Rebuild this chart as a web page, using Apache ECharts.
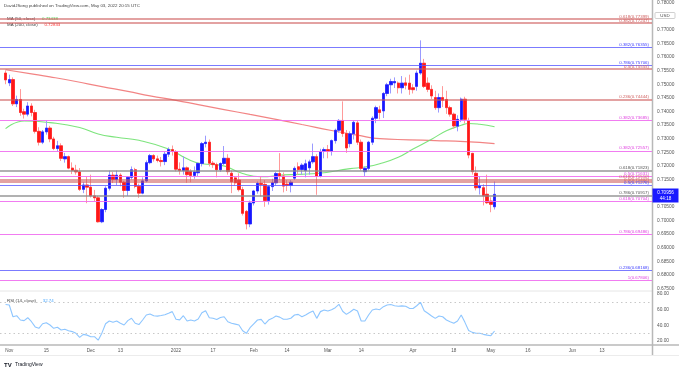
<!DOCTYPE html>
<html><head><meta charset="utf-8">
<script src="https://cdn.jsdelivr.net/npm/echarts@6/dist/echarts.min.js"></script>
<style>html,body{margin:0;padding:0;background:#fff;}#c{width:679px;height:368px;}</style>
</head><body><div id="c"></div>
<script>
// ---------- DATA ----------
const firstDay = '2021-10-28', lastDay = '2022-06-30';   // visible weekday range
const candleStart = '2021-10-29';
// daily candles [open, high, low, close] from candleStart
const ohlc = [
[.7541,.7551,.7500,.7516],[.7505,.7535,.7493,.7517],[.7517,.7525,.7420,.7428],[.7428,.7458,.7416,.7444],
[.7444,.7482,.7384,.7396],[.7399,.7410,.7374,.7390],[.7390,.7434,.7382,.7420],[.7420,.7430,.7382,.7396],
[.7396,.7406,.7319,.7327],[.7327,.7342,.7275,.7287],[.7287,.7332,.7280,.7325],[.7325,.7366,.7315,.7339],
[.7339,.7347,.7287,.7299],[.7299,.7307,.7258,.7264],[.7264,.7292,.7253,.7274],[.7274,.7283,.7218,.7228],
[.7226,.7248,.7212,.7234],[.7234,.7238,.7188,.7192],[.7192,.7213,.7170,.7184],[.7184,.7204,.7168,.7178],
[.7178,.7192,.7108,.7114],[.7114,.7140,.7100,.7130],[.7130,.7160,.7063,.7122],[.7122,.7168,.7084,.7090],
[.7090,.7112,.7070,.7083],[.7083,.7090,.6992,.6995],[.6995,.7045,.6990,.7040],[.7040,.7125,.7030,.7118],
[.7118,.7183,.7110,.7166],[.7166,.7178,.7137,.7150],[.7150,.7183,.7130,.7166],[.7166,.7173,.7125,.7140],
[.7140,.7145,.7083,.7110],[.7110,.7162,.7090,.7158],[.7158,.7198,.7150,.7186],[.7186,.7193,.7118,.7125],
[.7125,.7135,.7083,.7100],[.7100,.7158,.7096,.7145],[.7145,.7220,.7140,.7212],[.7212,.7244,.7206,.7238],
[.7238,.7243,.7216,.7226],[.7226,.7238,.7213,.7220],[.7220,.7233,.7198,.7216],[.7216,.7253,.7203,.7243],
[.7243,.7268,.7233,.7260],[.7260,.7275,.7238,.7253],[.7253,.7258,.7180,.7188],[.7188,.7213,.7168,.7183],
[.7183,.7235,.7168,.7193],[.7193,.7198,.7138,.7168],[.7180,.7188,.7140,.7165],[.7165,.7198,.7153,.7178],
[.7175,.7213,.7163,.7209],[.7209,.7288,.7198,.7282],[.7282,.7311,.7268,.7287],[.7287,.7297,.7198,.7210],
[.7210,.7218,.7193,.7205],[.7205,.7212,.7158,.7186],[.7186,.7213,.7178,.7209],[.7209,.7273,.7203,.7228],
[.7228,.7243,.7168,.7179],[.7173,.7183,.7100,.7142],[.7156,.7163,.7128,.7138],[.7148,.7173,.7106,.7113],
[.7113,.7123,.7018,.7026],[.7033,.7038,.6967,.6987],[.6987,.7073,.6975,.7064],[.7064,.7112,.7055,.7108],
[.7108,.7143,.7098,.7136],[.7136,.7163,.7088,.7132],[.7132,.7148,.7050,.7073],[.7073,.7128,.7058,.7124],
[.7124,.7153,.7108,.7138],[.7138,.7178,.7128,.7172],[.7172,.7247,.7148,.7163],[.7163,.7176,.7103,.7126],
[.7133,.7148,.7108,.7128],[.7128,.7148,.7103,.7140],[.7155,.7198,.7148,.7191],[.7197,.7213,.7168,.7187],
[.7187,.7210,.7168,.7203],[.7183,.7223,.7158,.7208],[.7193,.7223,.7168,.7215],[.7215,.7282,.7208,.7234],
[.7234,.7243,.7094,.7163],[.7163,.7263,.7158,.7253],[.7253,.7268,.7228,.7260],[.7260,.7277,.7228,.7253],
[.7253,.7297,.7238,.7293],[.7293,.7337,.7282,.7331],[.7331,.7372,.7322,.7367],[.7367,.7437,.7307,.7319],
[.7319,.7332,.7248,.7266],[.7282,.7327,.7268,.7318],[.7318,.7367,.7297,.7360],[.7358,.7367,.7277,.7287],
[.7287,.7297,.7183,.7191],[.7179,.7198,.7163,.7191],[.7191,.7292,.7183,.7287],[.7287,.7382,.7277,.7375],
[.7375,.7421,.7357,.7414],[.7406,.7421,.7371,.7396],[.7402,.7471,.7376,.7466],[.7466,.7505,.7456,.7498],
[.7498,.7520,.7466,.7510],[.7505,.7525,.7486,.7510],[.7504,.7510,.7466,.7487],[.7487,.7530,.7466,.7504],
[.7505,.7525,.7481,.7496],[.7504,.7535,.7461,.7481],[.7487,.7500,.7466,.7480],[.7492,.7550,.7476,.7541],
[.7541,.7661,.7535,.7577],[.7577,.7593,.7486,.7492],[.7504,.7525,.7471,.7481],[.7481,.7496,.7446,.7457],
[.7451,.7476,.7406,.7414],[.7414,.7466,.7396,.7451],[.7451,.7493,.7416,.7441],[.7444,.7476,.7391,.7414],
[.7414,.7421,.7381,.7390],[.7390,.7396,.7337,.7347],[.7346,.7386,.7327,.7371],[.7371,.7451,.7361,.7445],
[.7445,.7454,.7356,.7371],[.7367,.7377,.7228,.7240],[.7246,.7248,.7168,.7179],[.7173,.7198,.7110,.7120],
[.7120,.7163,.7095,.7126],[.7120,.7133,.7055,.7090],[.7096,.7168,.7060,.7065],[.7071,.7085,.7030,.7059],
[.7050,.7143,.7040,.70956]
];
// moving averages: [day index from firstDay, value]
const ma50 = [[1,.7337],[6,.7365],[13,.7359],[21,.7341],[26,.7317],[31,.7305],[37,.7294],[45,.7262],[50,.7226],
 [54,.7208],[59,.7203],[65,.7172],[70,.7160],[76,.7167],[85,.7172],[94,.7190],[98,.7196],[102,.7208],[107,.7232],
 [111,.7262],[116,.7298],[120,.7329],[124,.7349],[126,.7356],[129,.7353],[133,.7344]];
const ma200 = [[1,.7553],[8,.7538],[13,.7527],[20,.7510],[27,.7491],[34,.7474],[40,.7457],[47,.7441],[53,.7425],
 [60,.7407],[67,.7389],[74,.7371],[81,.7352],[89,.7330],[96,.7313],[102,.7300],[110,.7296],[117,.7293],[125,.7289],[133,.7282]];
// RSI(14) per candle from candleStart
const rsi = [66.5,66,51,52.3,46.8,46,49.7,44.6,38,36.2,42,43.4,40.4,36.2,37.5,34,35,33.2,32,29.8,24.7,28.5,27.5,25.5,25.5,21,
 30,42,45.5,43.8,45.5,42.6,40.4,46,49,42.6,41,46.8,53.2,54.5,52.3,51.8,52.5,53.5,55.4,57.5,47.7,47,52.3,45.5,46.8,45.5,48,56,
 58.7,49.7,49,47.5,50,51,44.6,42.6,41.5,40.4,33,29.8,37,42,46.8,47.6,41.7,46.8,48.9,51.9,50.5,47.7,47.7,49,53.2,54,51,53.2,
 56.1,58.3,48.9,57.5,59.6,58.3,60,62.5,66.8,58,54,57,60.5,58.3,45.5,45.5,53.2,59.6,60.9,60,63.8,66,66.5,65.1,64.3,64.8,64.3,
 61.7,61.5,65,69.4,58.7,55.4,51.9,48.9,51.9,51,46.8,44.5,42.6,45.5,53.2,43.8,33.5,31,29.8,29.8,28.5,27.5,26.8,32.74];
// fibonacci level drawings
const fibValues = [0.77399,0.77247,0.76355,0.75706,0.75555,0.74444,0.73685,0.72557,0.71823,0.71631,0.71510,0.71402,0.71276,0.70917,0.70704,0.69486,0.68168,0.67806];
const fibRatios = ['0.618','0.382','0.382','0.786','0.5','0.236','0.382','0.382','0.618','0.5','0.618','0.5','0.5','0.786','0.618','0.786','0.236','1'];
const fibKinds  = ['r','r','b','b','r','r','m','m','g','m','r','r','b','g','m','m','b','m'];
const tickLabels = {'2021-11-01':'Nov','2021-11-15':'15','2021-12-01':'Dec','2021-12-13':'13','2022-01-03':'2022','2022-01-17':'17',
 '2022-02-01':'Feb','2022-02-14':'14','2022-03-01':'Mar','2022-03-14':'14','2022-04-01':'Apr','2022-04-18':'18','2022-05-02':'May',
 '2022-05-16':'16','2022-06-01':'Jun','2022-06-13':'13'};
const lastPrice = '0.70956', countdown = '44:18';
const ma50Last = '0.73438', ma200Last = '0.72833', rsiLast = '32.74';

// ---------- BUILD ----------
const dates = [];
for (let d = new Date(firstDay + 'T00:00:00Z'); d <= new Date(lastDay + 'T00:00:00Z'); d.setUTCDate(d.getUTCDate() + 1)) {
  const w = d.getUTCDay(); if (w !== 0 && w !== 6) dates.push(d.toISOString().slice(0, 10));
}
const off = dates.indexOf(candleStart);
const wickData = [], bodyData = [], rsiData = [];
dates.forEach((d, i) => {
  const k = i - off;
  if (k < 0 || k >= ohlc.length) { wickData.push('-'); bodyData.push('-'); rsiData.push('-'); return; }
  const [o, h, l, c] = ohlc[k];
  wickData.push([o, c, l, h]);
  bodyData.push([o, c, Math.min(o, c), Math.max(o, c)]);
  rsiData.push(rsi[k]);
});
const FONT = 'Liberation Sans, Arial, sans-serif';
const kindStyle = {
  r: {line: 'rgba(205,90,90,0.75)', w: 1.5, text: '#d06060'},
  b: {line: 'rgba(90,90,255,0.8)', w: 1.2, text: '#3d3dff'},
  m: {line: 'rgba(240,110,240,0.9)', w: 1.2, text: '#e040e0'},
  g: {line: 'rgba(140,140,140,0.9)', w: 1.5, text: '#555'}
};
const fibMarks = fibValues.map((v, i) => {
  const s = kindStyle[fibKinds[i]];
  return {yAxis: v, lineStyle: {color: s.line, width: s.w, type: 'solid'},
    label: {show: true, position: 'insideEndTop', distance: [3, 0.5], color: s.text, fontSize: 4.4,
      fontFamily: FONT, formatter: fibRatios[i] + '(' + v.toFixed(5) + ')'}};
});
const chart = echarts.init(document.getElementById('c'), null, {renderer: 'canvas'});
const gridL = 0, gridR = 27;
chart.setOption({
  animation: false,
  backgroundColor: '#fff',
  grid: [
    {left: gridL, right: gridR, top: -2.14, height: 290.64},
    {left: gridL, right: gridR, top: 294, height: 47}
  ],
  xAxis: [
    {type: 'category', data: dates, gridIndex: 0, boundaryGap: true, show: false},
    {type: 'category', data: dates, gridIndex: 1, boundaryGap: true,
     axisLine: {show: false}, axisTick: {show: false}, splitLine: {show: false},
     axisLabel: {interval: (i, v) => v in tickLabels, formatter: v => tickLabels[v] || '',
       fontSize: 4.6, color: '#555', margin: 7, fontFamily: FONT}}
  ],
  yAxis: [
    {type: 'value', gridIndex: 0, position: 'right', min: 0.675, max: 0.78, interval: 0.005, scale: true,
     axisLine: {show: false}, axisTick: {show: false}, splitLine: {show: false},
     axisLabel: {fontSize: 4.8, color: '#555', margin: 5, fontFamily: FONT,
       formatter: v => { const s = v.toFixed(5); return (s === '0.77500' || s === '0.71000') ? '' : s; }}},
    {type: 'value', gridIndex: 1, position: 'right', min: 20, max: 80, interval: 20,
     axisLine: {show: false}, axisTick: {show: false}, splitLine: {show: false},
     axisLabel: {fontSize: 4.8, color: '#555', margin: 5, fontFamily: FONT, formatter: v => v.toFixed(2)}}
  ],
  series: [
    {type: 'line', xAxisIndex: 0, yAxisIndex: 0, data: [], silent: true, z: 1,
     markLine: {symbol: 'none', silent: true, animation: false, precision: 6, data: fibMarks}},
    {name: 'MA200', type: 'line', xAxisIndex: 0, yAxisIndex: 0, data: ma200, smooth: true, showSymbol: false,
     lineStyle: {color: 'rgba(240,110,110,0.85)', width: 1.2}, z: 2},
    {name: 'MA50', type: 'line', xAxisIndex: 0, yAxisIndex: 0, data: ma50, smooth: true, showSymbol: false,
     lineStyle: {color: 'rgba(110,225,110,0.9)', width: 1.1}, z: 2},
    {type: 'candlestick', xAxisIndex: 0, yAxisIndex: 0, data: wickData, barWidth: '78%', z: 3,
     itemStyle: {color: 'rgba(0,0,0,0)', color0: 'rgba(0,0,0,0)', borderColor: '#9a9aff', borderColor0: '#ff9a9a', borderWidth: 1}},
    {type: 'candlestick', xAxisIndex: 0, yAxisIndex: 0, data: bodyData, barWidth: '78%', z: 4,
     itemStyle: {color: '#1717ff', color0: '#ff1717', borderColor: '#1717ff', borderColor0: '#ff1717', borderWidth: 0.6}},
    {name: 'RSI', type: 'line', xAxisIndex: 1, yAxisIndex: 1, data: rsiData, showSymbol: false,
     lineStyle: {color: '#8ec6ff', width: 1.1},
     markLine: {symbol: 'none', silent: true, label: {show: false},
       lineStyle: {color: '#c8c8c8', type: [1.5, 3], width: 1}, data: [{yAxis: 70}, {yAxis: 30}]}}
  ],
  graphic: [
    {type: 'line', shape: {x1: 0, y1: 291, x2: 652, y2: 291}, style: {stroke: '#e6e6e6', lineWidth: 1}},
    {type: 'line', shape: {x1: 0, y1: 345, x2: 679, y2: 345}, style: {stroke: '#b8b8b8', lineWidth: 1.5}},
    {type: 'line', shape: {x1: 0, y1: 355.5, x2: 679, y2: 355.5}, style: {stroke: '#ececec', lineWidth: 1}},
    {type: 'line', shape: {x1: 652.5, y1: 0, x2: 652.5, y2: 355}, style: {stroke: '#b8b8b8', lineWidth: 1.5}},
    {type: 'text', left: 4, top: 3.5, style: {text: 'DavidJSong published on TradingView.com, May 03, 2022 20:15 UTC',
      font: '4.4px ' + FONT, fill: '#444'}},
    {type: 'text', left: 7, top: 12.5, style: {rich: {a: {fill: '#444', font: '4.4px ' + FONT}, g: {fill: '#4fd04f', font: '4.4px ' + FONT}},
      text: '{a|MA (50, close)}  {g|' + ma50Last + '}'}},
    {type: 'text', left: 7, top: 19, style: {rich: {a: {fill: '#444', font: '4.4px ' + FONT}, r: {fill: '#ff3030', font: '4.4px ' + FONT}},
      text: '{a|MA (200, close)}  {r|' + ma200Last + '}'}},
    {type: 'text', left: 7, top: 295, style: {rich: {a: {fill: '#444', font: '4.4px ' + FONT}, b: {fill: '#4aa8ff', font: '4.4px ' + FONT}},
      text: '{a|RSI (14, close)}  {b|' + rsiLast + '}'}},
    {type: 'rect', shape: {x: 655, y: 12.5, width: 20, height: 6, r: 1}, style: {fill: '#fff', stroke: '#bbb', lineWidth: 0.7}},
    {type: 'text', x: 665, y: 15.5, style: {text: 'USD', font: '4.4px ' + FONT, fill: '#444', align: 'center', verticalAlign: 'middle'}},
    {type: 'rect', shape: {x: 652.5, y: 188.5, width: 26, height: 14}, style: {fill: '#1a1aff'}},
    {type: 'text', x: 665.5, y: 192.8, style: {text: lastPrice, font: '4.6px ' + FONT, fill: '#fff', align: 'center', verticalAlign: 'middle'}},
    {type: 'text', x: 665.5, y: 198.8, style: {text: countdown, font: '4.6px ' + FONT, fill: '#fff', align: 'center', verticalAlign: 'middle'}},
    {type: 'text', left: 4, top: 359, style: {rich: {t: {fill: '#131722', font: 'bold 6px ' + FONT}, n: {fill: '#131722', font: '5px ' + FONT}},
      text: '{t|TV} {n|TradingView}'}}
  ]
});
</script></body></html>
